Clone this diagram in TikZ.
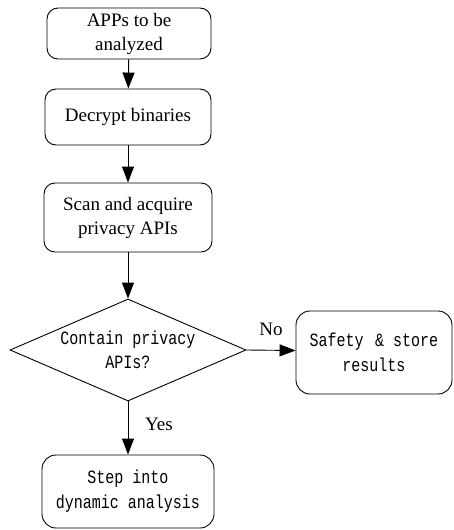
\documentclass[tikz,border=0pt]{standalone}
\usepackage{fontspec}
\usepackage{graphicx}
\setmainfont{Liberation Serif}
\newfontfamily\monof{Liberation Mono}
\newcommand\tallmono[1]{\scalebox{1}[1.25]{#1}}
\usetikzlibrary{shapes.geometric,arrows.meta}
\begin{document}
\begin{tikzpicture}[x=1pt,y=-1pt,
  serifbox/.style={draw,rounded corners=11pt,line width=0.9pt,inner sep=0pt,align=center,
    font=\fontsize{19}{24}\selectfont},
  monobox/.style={draw,rounded corners=14pt,line width=0.9pt,inner sep=0pt,align=center,
    font=\monof\fontsize{15}{25}\selectfont},
  arr/.style={line width=0.9pt,-{Triangle[length=16pt,width=12pt]}},
  lab/.style={font=\fontsize{19}{24}\selectfont,inner sep=0pt}]
\useasboundingbox (0,0) rectangle (453,530);
\node[serifbox,minimum width=164pt,minimum height=51pt] (apps) at (129,33.5) {APPs to be\\analyzed};
\node[serifbox,minimum width=166pt,minimum height=56pt] (dec) at (128,117) {Decrypt binaries};
\node[serifbox,minimum width=168pt,minimum height=69pt] (scan) at (128,217.5) {Scan and acquire\\privacy APIs};
\node[draw,diamond,aspect=2.3,line width=0.9pt,inner sep=0pt,minimum width=236pt,minimum height=102pt,
  align=center,font=\monof\fontsize{15}{24}\selectfont] (dia) at (128,350) {\tallmono{Contain privacy}\\\tallmono{APIs?}};
\node[monobox,minimum width=156pt,minimum height=83pt] (safe) at (374,352.5) {\tallmono{Safety \,\&\ store}\\\tallmono{results}};
\node[monobox,minimum width=172pt,minimum height=73pt] (dyn) at (128,491.5) {\tallmono{Step into}\\\tallmono{dynamic analysis}};
\draw[arr] (apps) -- (dec);
\draw[arr] (dec) -- (scan);
\draw[arr] (scan) -- (dia);
\draw[arr] (dia.east) -- ([yshift=2pt]safe.west);
\draw[arr] (dia) -- (dyn);
\node[lab] (no) at (271,329) {No};
\node[lab] (yes) at (159,424) {Yes};
\end{tikzpicture}
\end{document}
